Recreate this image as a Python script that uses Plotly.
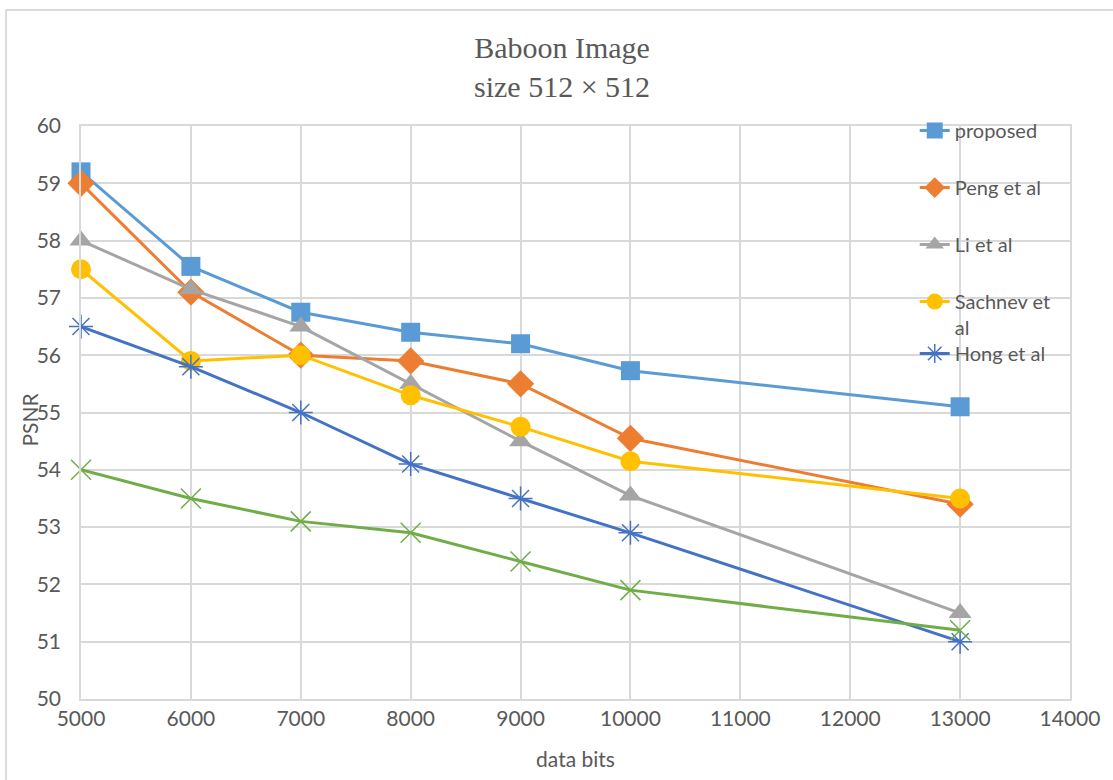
import plotly.graph_objects as go

# Embedded data bits and measured PSNR (dB) for the Baboon test image
data_bits = [5000, 6000, 7000, 8000, 9000, 10000, 13000]
proposed = [59.2, 57.55, 56.75, 56.4, 56.2, 55.73, 55.1]
peng = [59.0, 57.1, 56.0, 55.9, 55.5, 54.55, 53.4]
li = [58.0, 57.15, 56.5, 55.5, 54.5, 53.55, 51.5]
sachnev = [57.5, 55.9, 56.0, 55.3, 54.75, 54.15, 53.5]
hong = [56.5, 55.8, 55.0, 54.1, 53.5, 52.9, 51.0]
other = [54.0, 53.5, 53.1, 52.9, 52.4, 51.9, 51.2]

# name, values, colour, marker, size, legend id (None = not listed)
series = [
    ("proposed", proposed, "#5B9BD5", "square", 19, "legend"),
    ("Peng et al", peng, "#ED7D31", "diamond", 21, "legend"),
    ("Li et al", li, "#A5A5A5", "triangle-up", 20, "legend"),
    ("Sachnev et<br>al", sachnev, "#FFC000", "circle", 20, "legend"),
    ("Hong et al", hong, "#4472C4", "asterisk-open", 20, "legend2"),
    ("", other, "#70AD47", "x-thin-open", 20, None),
]

fig = go.Figure()
for i, (name, vals, color, sym, size, leg) in enumerate(series):
    open_sym = sym.endswith("open")
    fig.add_trace(go.Scatter(
        x=data_bits, y=vals, name=name, mode="lines+markers",
        line=dict(color=color, width=3),
        marker=dict(symbol=sym, size=size, color=color,
                    line=dict(color=color, width=1.5 if open_sym else 0)),
        showlegend=leg is not None, legend=leg or "legend",
        legendgroup=f"g{i}", cliponaxis=False,
    ))

grid = "#D9D9D9"
txt = "#595959"
font_family = "Lato, Open Sans, sans-serif"
tick_font = dict(family=font_family, size=21, color=txt)
legend_font = dict(family=font_family, size=20, color=txt)

fig.update_layout(
    width=1113, height=780,
    margin=dict(l=81, r=43, t=126, b=81),
    paper_bgcolor="white", plot_bgcolor="white",
    showlegend=True,
    legend=dict(
        x=0.843, y=1.026, xanchor="left", yanchor="top",
        bgcolor="rgba(0,0,0,0)", traceorder="grouped", tracegroupgap=28,
        valign="top", font=legend_font,
    ),
    legend2=dict(
        x=0.843, y=0.603, xanchor="left", yanchor="middle",
        bgcolor="rgba(0,0,0,0)", font=legend_font,
    ),
    xaxis=dict(
        range=[5000, 14000], dtick=1000, tick0=5000, tickformat="d",
        showgrid=True, gridcolor=grid, gridwidth=1.5,
        showline=True, linecolor=grid, linewidth=1.5, mirror=True,
        zeroline=False, ticks="", tickfont=tick_font, ticklabelstandoff=0,
        title=dict(text="data bits", font=tick_font, standoff=23),
    ),
    yaxis=dict(
        range=[50, 60], dtick=1,
        showgrid=True, gridcolor=grid, gridwidth=1.5,
        showline=True, linecolor=grid, linewidth=1.5, mirror=True,
        zeroline=False, ticks="", tickfont=tick_font, ticklabelstandoff=14,
    ),
    annotations=[
        dict(
            text="Baboon Image<br>size 512 × 512",
            xref="paper", yref="paper", x=0.486, y=1.103,
            xanchor="center", yanchor="middle", showarrow=False,
            font=dict(family="Liberation Serif, Times New Roman, serif", size=30, color=txt),
        ),
        dict(
            text="PSNR", textangle=-90,
            xref="paper", yref="paper", x=-0.052, y=0.487,
            xanchor="center", yanchor="middle", showarrow=False,
            font=tick_font,
        ),
    ],
    shapes=[dict(
        type="rect", xref="paper", yref="paper",
        x0=-0.0758, x1=1.2, y0=-0.3, y1=1.2024,
        line=dict(color="#D0D0D0", width=1.5), fillcolor="rgba(0,0,0,0)", layer="below",
    )],
)

fig.write_html("out.html")
